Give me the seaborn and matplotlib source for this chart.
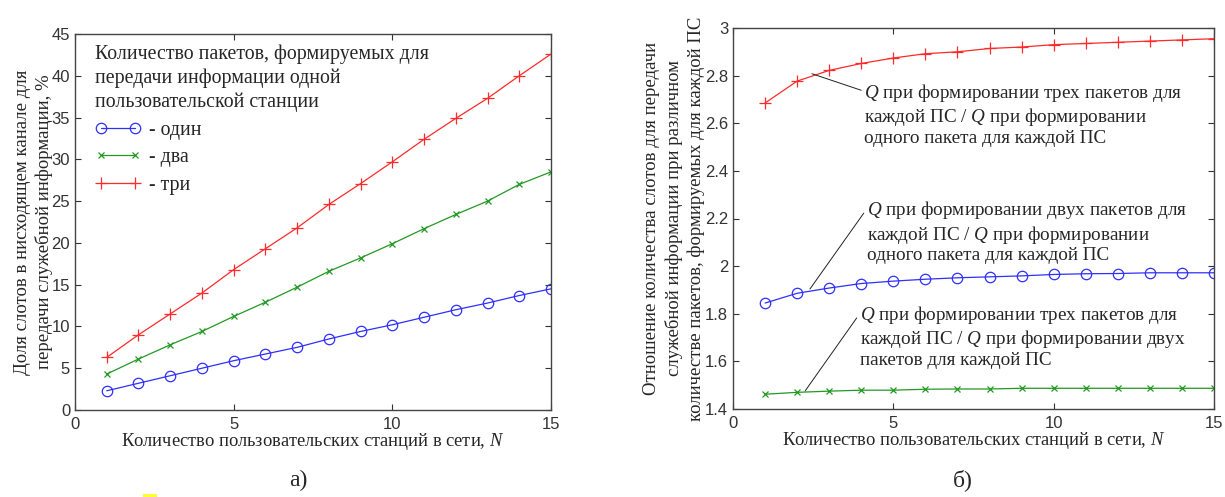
import numpy as np
import pandas as pd
import seaborn as sns
import matplotlib
matplotlib.use('Agg')
import matplotlib.pyplot as plt
from matplotlib.patches import Rectangle

# number of user stations
N = list(range(1, 16))

# share of slots, %  (a)
one_pkt = [2.3, 3.2, 4.1, 5.0, 5.9, 6.7, 7.5, 8.5, 9.4, 10.2, 11.1, 12.0, 12.8, 13.7, 14.5]
two_pkt = [4.3, 6.1, 7.8, 9.4, 11.2, 12.9, 14.7, 16.6, 18.2, 19.9, 21.7, 23.4, 25.0, 27.0, 28.5]
three_pkt = [6.3, 9.0, 11.5, 14.0, 16.8, 19.3, 21.8, 24.6, 27.1, 29.7, 32.4, 34.9, 37.3, 40.0, 42.6]

# ratios (б)
ratio_3_1 = [2.685, 2.777, 2.822, 2.851, 2.874, 2.892, 2.900, 2.914, 2.920, 2.930, 2.935, 2.940, 2.945, 2.950, 2.955]
ratio_2_1 = [1.845, 1.886, 1.908, 1.927, 1.937, 1.945, 1.951, 1.955, 1.959, 1.965, 1.968, 1.969, 1.972, 1.972, 1.972]
ratio_3_2 = [1.462, 1.470, 1.475, 1.479, 1.479, 1.483, 1.484, 1.484, 1.487, 1.487, 1.487, 1.487, 1.487, 1.487, 1.487]

legend_labels = ['- один', '- два', '- три']
ratio_ticks = [1.4, 1.6, 1.8, 2.0, 2.2, 2.4, 2.6, 2.8, 3.0]
ratio_ticklabels = ['1.4', '1.6', '1.8', '2', '2.2', '2.4', '2.6', '2.8', '3']

df_a = pd.DataFrame({'N': N, 'one': one_pkt, 'two': two_pkt, 'three': three_pkt})
df_b = pd.DataFrame({'N': N, 'r31': ratio_3_1, 'r21': ratio_2_1, 'r32': ratio_3_2})

sns.set_style('ticks')
plt.rcParams['font.family'] = ['Liberation Serif', 'DejaVu Serif']
plt.rcParams['mathtext.fontset'] = 'custom'
plt.rcParams['mathtext.rm'] = 'Liberation Serif'
plt.rcParams['mathtext.it'] = 'Liberation Serif:italic'

BLUE = '#2f2fff'
GREEN = '#229922'
RED = '#ff2a2a'

fig = plt.figure(figsize=(12.25, 4.97), dpi=100)
ax1 = fig.add_axes([75 / 1225, 1 - 410 / 497, 476 / 1225, 376 / 497])
ax2 = fig.add_axes([733 / 1225, 1 - 409 / 497, 481 / 1225, 381 / 497])

o_kw = dict(marker='o', markerfacecolor='none', linewidth=0.9, markersize=7.5, markeredgewidth=0.9)
x_kw = dict(marker='x', linewidth=0.9, markersize=5, markeredgewidth=0.9)
p_kw = dict(marker='+', linewidth=0.9, markersize=9, markeredgewidth=0.9)

sns.lineplot(data=df_a, x='N', y='one', ax=ax1, color=BLUE, markeredgecolor=BLUE,
             label=legend_labels[0], **o_kw)
sns.lineplot(data=df_a, x='N', y='two', ax=ax1, color=GREEN, markeredgecolor=GREEN,
             label=legend_labels[1], **x_kw)
sns.lineplot(data=df_a, x='N', y='three', ax=ax1, color=RED, markeredgecolor=RED,
             label=legend_labels[2], **p_kw)

sns.lineplot(data=df_b, x='N', y='r31', ax=ax2, color=RED, markeredgecolor=RED, **p_kw)
sns.lineplot(data=df_b, x='N', y='r21', ax=ax2, color=BLUE, markeredgecolor=BLUE, **o_kw)
sns.lineplot(data=df_b, x='N', y='r32', ax=ax2, color=GREEN, markeredgecolor=GREEN, **x_kw)

for ax in (ax1, ax2):
    ax.set_xlim(0, 15)
    ax.set_xticks([0, 5, 10, 15])
    ax.tick_params(direction='in', top=True, right=True, length=4, width=0.8,
                   colors='#333333', labelsize=12)
    ax.tick_params(axis='y', pad=3.5)
    ax.tick_params(axis='x', pad=5)
    for sp in ax.spines.values():
        sp.set_visible(True)
        sp.set_color('#444444')
        sp.set_linewidth(1.0)
    ax.set_xlabel('Количество пользовательских станций в сети, $\\mathit{N}$',
                  fontsize=13.3, labelpad=-1)

ax1.set_ylim(0, 45)
ax1.set_yticks(range(0, 46, 5))
ax1.set_ylabel('Доля слотов в нисходящем канале для\nпередачи служебной информации, %',
               fontsize=13.5, labelpad=-1, linespacing=1.28)

ax2.set_ylim(1.4, 3.0)
ax2.set_yticks(ratio_ticks)
ax2.set_yticklabels(ratio_ticklabels)
ax2.set_ylabel('Отношение количества слотов для передачи\nслужебной информации при различном\n'
               'количестве пакетов, формируемых для каждой ПС',
               fontsize=13.5, labelpad=0, linespacing=1.33)

for ax in (ax1, ax2):
    for lab in ax.get_xticklabels() + ax.get_yticklabels():
        lab.set_family(['Liberation Sans', 'DejaVu Sans'])

leg = ax1.legend(title='Количество пакетов, формируемых для\nпередачи информации одной\n'
                       'пользовательской станции',
                 loc='upper left', bbox_to_anchor=(0.013, 1.01), frameon=False,
                 fontsize=14.3, title_fontsize=14.3, numpoints=2, handlelength=2.3,
                 handletextpad=0.4, labelspacing=0.44, alignment='left', borderaxespad=0.3)
leg.get_title().set_linespacing(1.32)

line_kw = dict(arrowstyle='-', color='#222222', lw=0.7, shrinkA=0, shrinkB=0, relpos=(0, 0.86))
ann_kw = dict(fontsize=13.8, ha='left', va='top', linespacing=1.13, arrowprops=line_kw)
ax2.annotate('$\\mathit{Q}$ при формировании трех пакетов для\nкаждой ПС / $\\mathit{Q}$ при формировании\n'
             'одного пакета для каждой ПС',
             xy=(2.46, 2.808), xytext=(4.1, 2.772), **ann_kw)
ax2.annotate('$\\mathit{Q}$ при формировании двух пакетов для\nкаждой ПС / $\\mathit{Q}$ при формировании\n'
             'одного пакета для каждой ПС',
             xy=(2.4, 1.904), xytext=(4.18, 2.28), **ann_kw)
ax2.annotate('$\\mathit{Q}$ при формировании трех пакетов для\nкаждой ПС / $\\mathit{Q}$ при формировании двух\n'
             'пакетов для каждой ПС',
             xy=(2.25, 1.476), xytext=(3.96, 1.84), **ann_kw)

fig.text(298 / 1225, 1 - 480 / 497, 'а)', fontsize=17, ha='center', va='center')
fig.text(963 / 1225, 1 - 480 / 497, 'б)', fontsize=17, ha='center', va='center')
fig.patches.append(Rectangle((143 / 1225, 0.0), 14 / 1225, 3 / 497, transform=fig.transFigure,
                             facecolor='#ffff33', edgecolor='none'))

fig.savefig('out.png', dpi=100)
